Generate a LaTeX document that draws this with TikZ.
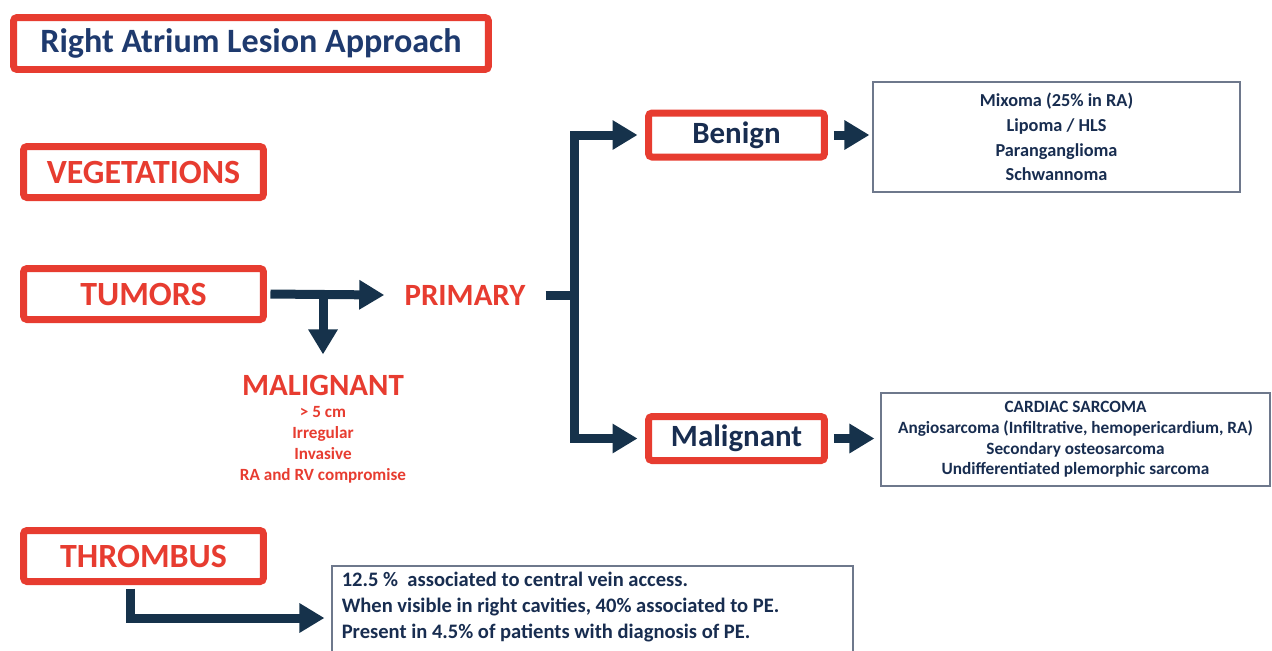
\documentclass[tikz,border=0pt]{standalone}
\usepackage{fontspec}
\setmainfont{Carlito}
\usetikzlibrary{arrows.meta,positioning}
\definecolor{slidered}{RGB}{231,60,48}
\definecolor{slidenavy}{RGB}{30,58,110}
\definecolor{darknavy}{RGB}{24,45,80}
\definecolor{arrownavy}{RGB}{22,50,75}
\definecolor{framegrey}{RGB}{110,120,140}
\tikzset{
  flow/.style={-{Triangle[length=0.5cm,width=0.56cm]}, line width=0.18cm, draw=arrownavy},
  flowline/.style={line width=0.18cm, draw=arrownavy},
  redbox/.style={
    draw=slidered,
    line width=0.14cm,
    rounded corners=2pt,
    fill=white,
    inner sep=0pt,
    font=\bfseries
  },
  catbox/.style={redbox, minimum width=4.8cm, minimum height=1.02cm, text=slidered,
    font=\fontsize{19.3}{23}\selectfont\bfseries},
  typebox/.style={redbox, minimum width=3.52cm, minimum height=0.88cm, text=darknavy,
    font=\fontsize{17.6}{21}\selectfont\bfseries},
  listbox/.style={draw=framegrey, line width=0.7pt, fill=white, align=center, text=darknavy, inner sep=0pt},
  redlabel/.style={text=slidered, align=center, inner sep=0pt}
}

\begin{document}
\begin{tikzpicture}[x=0.02cm, y=-0.02cm]
  \useasboundingbox (0,0) rectangle (1272,650);

  % Title
  \node[redbox, minimum width=9.5cm, minimum height=1.04cm, text=slidenavy,
    font=\fontsize{19.4}{23}\selectfont\bfseries] (title) at (251,43.5) {Right Atrium Lesion Approach};

  % Lesion types
  \node[catbox] (veg) at (143.5,172) {VEGETATIONS};
  \node[catbox] (tumors) at (143.5,294) {TUMORS};
  \node[catbox] (thrombus) at (143.5,556) {THROMBUS};

  % Tumors
  \node[redlabel, inner xsep=0.4cm, font=\fontsize{17.6}{21}\selectfont\bfseries] (primary) at (465,295) {PRIMARY};
  \node[redlabel, font=\fontsize{17.6}{21}\selectfont\bfseries] (maltitle) at (323,385) {MALIGNANT};
  \node[redlabel, font=\fontsize{9.75}{11.9}\selectfont\bfseries] (malsigns) at (323,444.5)
    {> 5 cm\\Irregular\\Invasive\\RA and RV compromise};

  \node[typebox] (benign) at (736.5,135) {Benign};
  \node[typebox] (malignant) at (736.5,438.5) {Malignant};

  \node[listbox, minimum width=7.34cm, minimum height=2.2cm, font=\fontsize{10.4}{14}\selectfont\bfseries]
    (benignlist) at (1056.5,137) {Mixoma (25\% in RA)\\Lipoma / HLS\\Paranganglioma\\Schwannoma};
  \node[listbox, minimum width=7.78cm, minimum height=1.86cm, font=\fontsize{9.8}{11.7}\selectfont\bfseries]
    (maliglist) at (1075.5,439.5) {CARDIAC SARCOMA\\Angiosarcoma (Infiltrative, hemopericardium, RA)\\Secondary osteosarcoma\\Undifferentiated plemorphic sarcoma};

  % Thrombus
  \node[listbox, minimum width=10.42cm, minimum height=2.08cm] (thrlist) at (592.5,618) {};
  \node[anchor=west, align=left, inner sep=0pt, text=darknavy, font=\fontsize{11.7}{14.7}\selectfont\bfseries]
    (thrtext) at ([xshift=0.2cm,yshift=0.22cm]thrlist.west)
    {12.5 \%\ \ associated to central vein access.\\When visible in right cavities, 40\% associated to PE.\\Present in 4.5\% of patients with diagnosis of PE.};

  % Arrows
  \coordinate (split) at (tumors.east -| maltitle.north);
  \coordinate (fork) at ([xshift=0.58cm]primary.east);
  \coordinate (drop) at ([xshift=-0.27cm]thrombus.south);
  \draw[flow, shorten <=0.07cm] (tumors.east) -- (primary.west);
  \draw[flow, shorten >=0.4cm] (split) -- (maltitle.north);
  \draw[flowline] (primary.east) -- (fork);
  \draw[flow, shorten >=0.15cm] (fork) |- (benign.west);
  \draw[flow, shorten >=0.15cm] (fork) |- (malignant.west);
  \draw[flow, shorten <=0.12cm, shorten >=0.06cm] (benign.east) -- (benign.east -| benignlist.west);
  \draw[flow, shorten <=0.12cm, shorten >=0.12cm] (malignant.east) -- (malignant.east -| maliglist.west);
  \draw[flow, shorten <=0.07cm, shorten >=0.14cm] (drop) |- (thrlist.west);
\end{tikzpicture}
\end{document}
